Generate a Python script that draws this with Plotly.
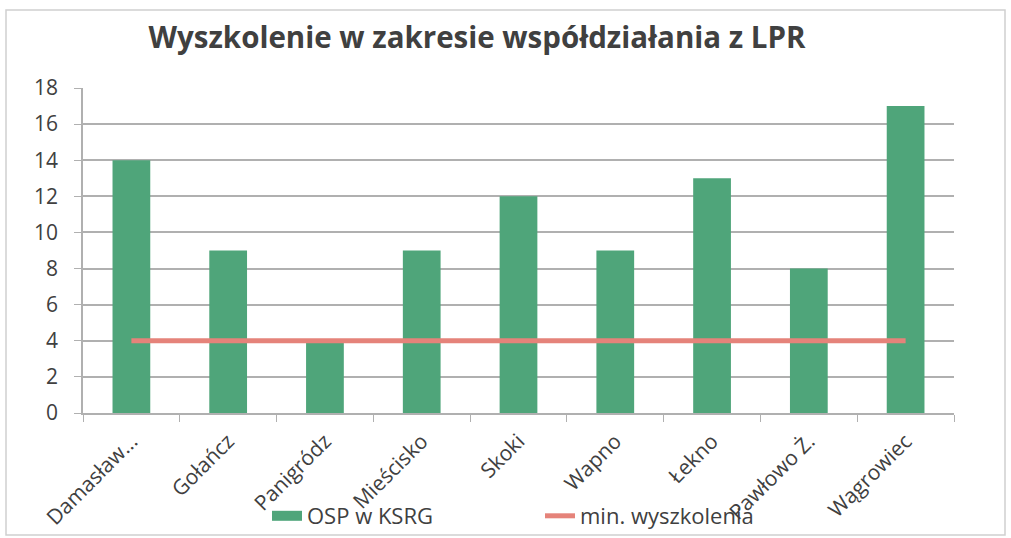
import plotly.graph_objects as go

categories = ["Damasław...", "Gołańcz", "Panigródz", "Mieścisko", "Skoki", "Wapno", "Łekno", "Pawłowo Ż.", "Wągrowiec"]
osp_values = [14, 9, 4, 9, 12, 9, 13, 8, 17]
min_values = [4, 4, 4, 4, 4, 4, 4, 4, 4]
y_ticks = [0, 2, 4, 6, 8, 10, 12, 14, 16, 18]

W, H = 1011, 538
L, R, T, B = 83, 57, 88, 125
pw, ph = W - L - R, H - T - B

def px_x(x):
    return (x - L) / pw

def px_y(y):
    return (H - B - y) / ph

BAR = "#4FA57A"
LINE = "#E5837A"

fig = go.Figure()
fig.add_trace(go.Bar(x=categories, y=osp_values, name="OSP w KSRG", showlegend=False,
                     marker=dict(color=BAR, line=dict(width=0)), width=0.39))
fig.add_trace(go.Scatter(x=[None], y=[None], name="OSP w KSRG", mode="lines",
                         line=dict(color=BAR, width=15)))
fig.add_trace(go.Scatter(x=categories, y=min_values, name="min. wyszkolenia", mode="lines",
                         line=dict(color=LINE, width=5)))

fig.update_layout(
    width=W, height=H,
    margin=dict(l=L, r=R, t=T, b=B, autoexpand=False),
    paper_bgcolor="white", plot_bgcolor="white",
    font=dict(family="Open Sans", color="#404040", size=16),
    title=dict(text="<b>Wyszkolenie w zakresie współdziałania z LPR</b>",
               x=px_x(477), xref="paper", xanchor="center",
               y=1 - 38 / H, yanchor="middle",
               font=dict(family="Open Sans", size=29.5, color="#404040")),
    showlegend=True,
    legend=dict(orientation="h", x=px_x(267), xanchor="left", y=px_y(516), yanchor="middle",
                font=dict(size=22, color="#404040"), bgcolor="rgba(0,0,0,0)",
                traceorder="normal", entrywidth=228, entrywidthmode="pixels"),
    shapes=[dict(type="rect", xref="paper", yref="paper",
                 x0=px_x(6), x1=px_x(1005), y0=px_y(535), y1=px_y(10),
                 line=dict(color="#D0D0D0", width=1.5), layer="below")],
)
fig.update_xaxes(type="category", showgrid=False, showline=True, linecolor="#B0B0B0", linewidth=1.5,
                 ticks="outside", tickson="boundaries", ticklen=7, tickcolor="#B0B0B0",
                 tickangle=-45, tickfont=dict(size=21, color="#404040"),
                 ticklabelstandoff=6, ticklabelshift=0, automargin=False)
fig.update_yaxes(range=[0, 18], tickvals=y_ticks, showgrid=True, gridcolor="#B0B0B0", gridwidth=1.5,
                 showline=True, linecolor="#B0B0B0", linewidth=1.5, ticks="outside", ticklen=7,
                 tickcolor="#B0B0B0", tickfont=dict(size=21, color="#404040"), zeroline=False,
                 ticklabelstandoff=12, automargin=False)

fig.write_html("out.html", post_script="document.body.style.margin='0';",
               config={"displayModeBar": False})
